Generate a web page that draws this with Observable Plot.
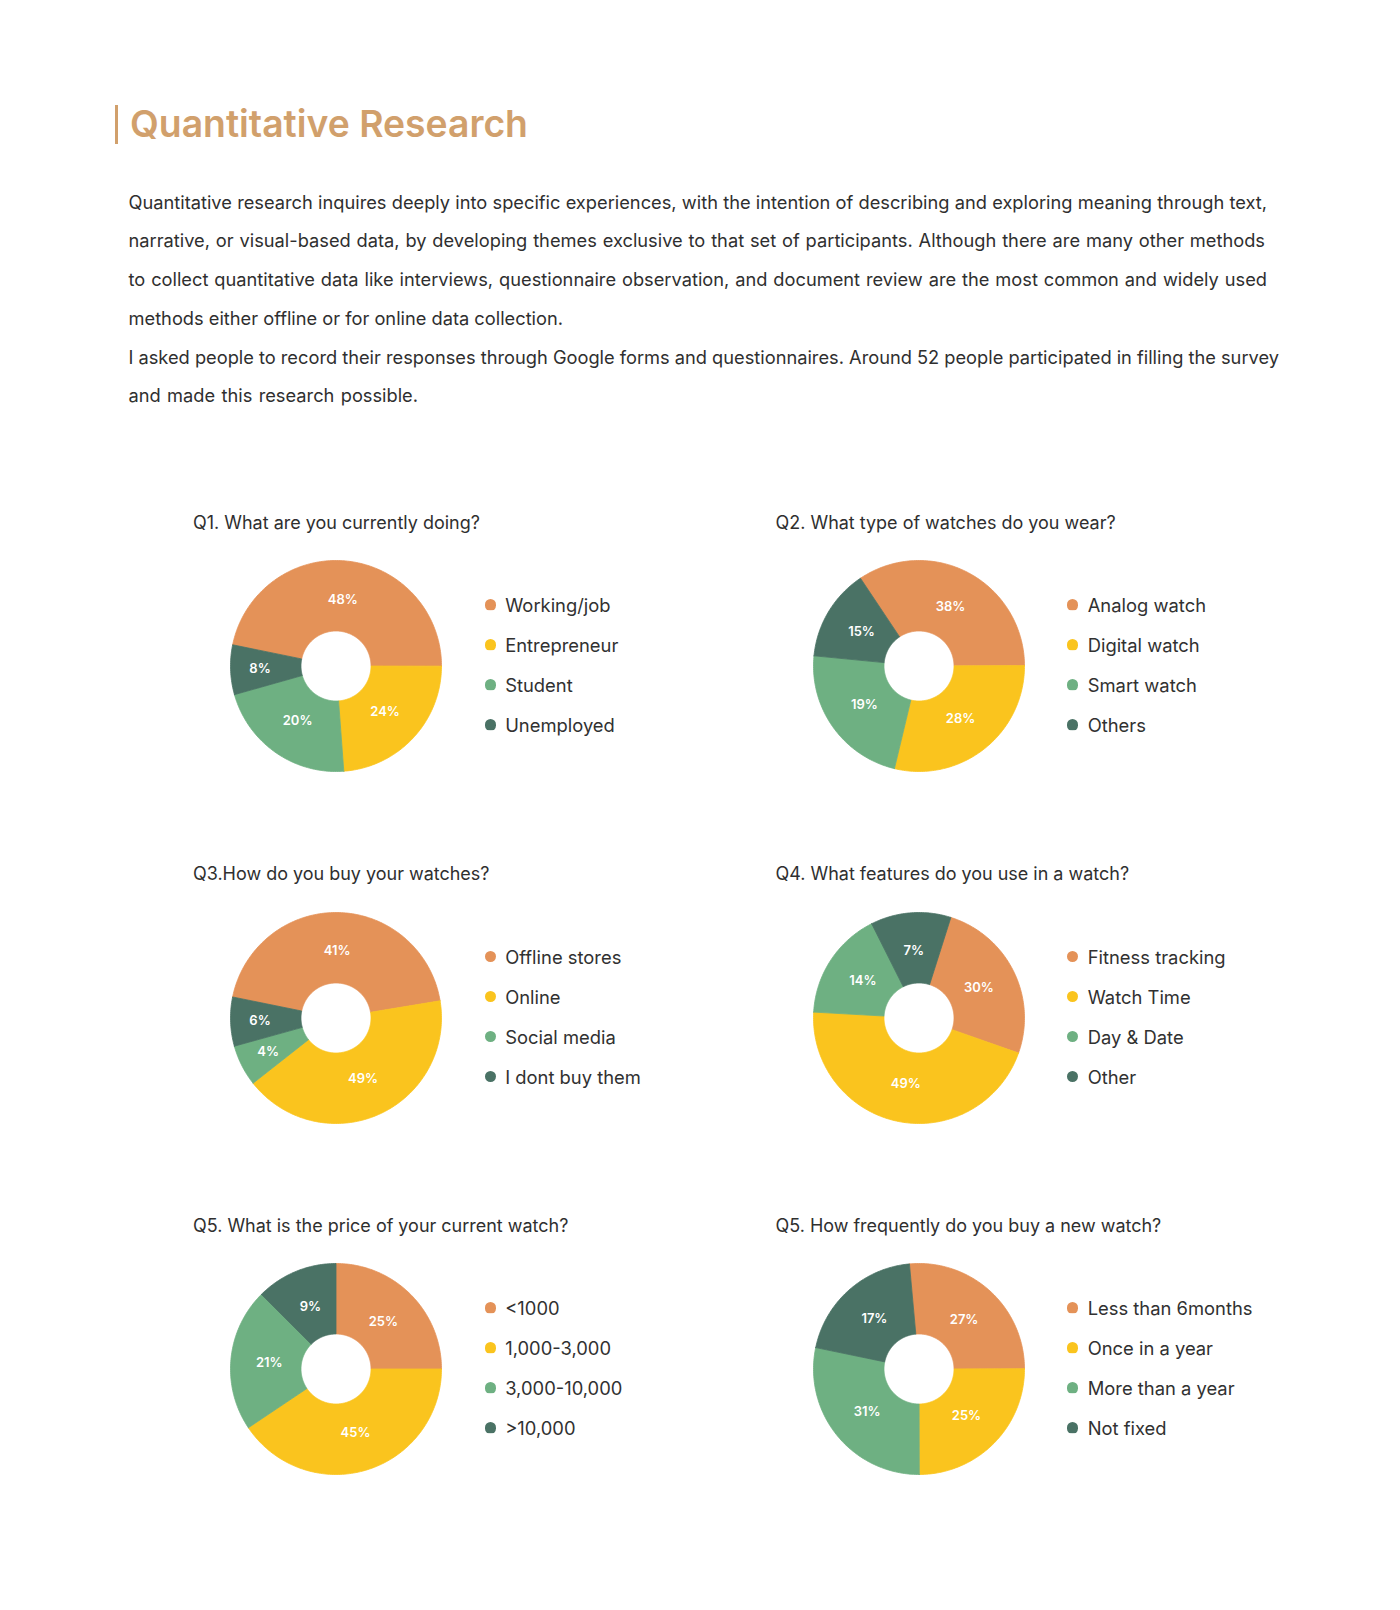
<!DOCTYPE html>
<html>
<head>
<meta charset="utf-8">
<script src="https://cdn.jsdelivr.net/npm/d3@7"></script>
<script src="https://cdn.jsdelivr.net/npm/@observablehq/plot@0.6"></script>
<style>
  html, body { margin: 0; padding: 0; background: #ffffff; }
  #page { position: relative; width: 1400px; height: 1610px; background: #ffffff; overflow: hidden;
          font-family: Inter, "Noto Sans", sans-serif; color: #313131; }
  .abs { position: absolute; white-space: nowrap; line-height: 1; }
  .lg-swatches { font-family: Inter, "Noto Sans", sans-serif; color: #313131; margin: 0; }
  .lg-swatch { height: 40px; padding-bottom: 0; }
  .lg-swatch > svg { margin-right: 9.5px; border-radius: 50%; overflow: hidden; }
  .lg-swatch-label { overflow: visible; }
</style>
</head>
<body>
<div id="page"></div>
<script>
// ---------------- data ----------------
const pageTitle = "Quantitative Research";
const introLines = [
  "Quantitative research inquires deeply into specific experiences, with the intention of describing and exploring meaning through text,",
  "narrative, or visual-based data, by developing themes exclusive to that set of participants. Although there are many other methods",
  "to collect quantitative data like interviews, questionnaire observation, and document review are the most common and widely used",
  "methods either offline or for online data collection.",
  "I asked people to record their responses through Google forms and questionnaires. Around 52 people participated in filling the survey",
  "and made this research possible."
];
const sliceColors = ["#E49258", "#FAC41E", "#6EB082", "#4A7265"];

const q1Title = "Q1. What are you currently doing?";
const q1Categories = ["Working/job", "Entrepreneur", "Student", "Unemployed"];
const q1Labels = ["48%", "24%", "20%", "8%"];
const q1Shares = [46.8, 23.8, 21.8, 7.6];

const q2Title = "Q2. What type of watches do you wear?";
const q2Categories = ["Analog watch", "Digital watch", "Smart watch", "Others"];
const q2Labels = ["38%", "28%", "19%", "15%"];
const q2Shares = [34.3, 28.8, 22.8, 14.1];

const q3Title = "Q3.How do you buy your watches?";
const q3Categories = ["Offline stores", "Online", "Social media", "I dont buy them"];
const q3Labels = ["41%", "49%", "4%", "6%"];
const q3Shares = [44.2, 42.0, 6.3, 7.5];

const q4Title = "Q4. What features do you use in a watch?";
const q4Categories = ["Fitness tracking", "Watch Time", "Day & Date", "Other"];
const q4Labels = ["30%", "49%", "14%", "7%"];
const q4Shares = [25.5, 45.5, 16.7, 12.3];

const q5Title = "Q5. What is the price of your current watch?";
const q5Categories = ["<1000", "1,000-3,000", "3,000-10,000", ">10,000"];
const q5Labels = ["25%", "45%", "21%", "9%"];
const q5Shares = [25.0, 40.6, 21.9, 12.5];

const q6Title = "Q5. How frequently do you buy a new watch?";
const q6Categories = ["Less than 6months", "Once in a year", "More than a year", "Not fixed"];
const q6Labels = ["27%", "25%", "31%", "17%"];
const q6Shares = [26.4, 25.0, 28.3, 20.3];

const charts = [
  {title: q1Title, categories: q1Categories, labels: q1Labels, shares: q1Shares},
  {title: q2Title, categories: q2Categories, labels: q2Labels, shares: q2Shares},
  {title: q3Title, categories: q3Categories, labels: q3Labels, shares: q3Shares},
  {title: q4Title, categories: q4Categories, labels: q4Labels, shares: q4Shares},
  {title: q5Title, categories: q5Categories, labels: q5Labels, shares: q5Shares},
  {title: q6Title, categories: q6Categories, labels: q6Labels, shares: q6Shares}
];

// ---------------- layout ----------------
const layout = {
  colX: [335.5, 918],
  rowY: [665.5, 1017, 1368.5],
  startAngle: [-78.4, -33.7, -78.5, 17.6, 0, -5.2],   // degrees clockwise from 12 o'clock
  outerR: 105.5,
  innerR: 35,
  pad: 5,
  paraLeft: 128.5,
  paraRight: [1267, 1265, 1267, 563, 1279, 418]
};

const FONT = 'Inter, "Noto Sans", sans-serif';
const page = document.getElementById("page");
const ctx = document.createElement("canvas").getContext("2d");
function measure(text, weight, fs) {
  ctx.font = `${weight} ${fs}px Inter`;
  return ctx.measureText(text).width;
}
function fitSize(text, weight, target) {
  return 100 * target / measure(text, weight, 100);
}
// Inter: baseline at top + 0.8633em when line-height = 1
function placeText(text, left, baseline, fs, weight, color) {
  const d = document.createElement("div");
  d.className = "abs";
  d.textContent = text;
  d.style.left = left + "px";
  d.style.top = (baseline - 0.8633 * fs) + "px";
  d.style.fontSize = fs + "px";
  d.style.fontWeight = weight;
  if (color) d.style.color = color;
  page.appendChild(d);
  return d;
}

// ---------------- header ----------------
const accent = "#D1A06C";
const bar = document.createElement("div");
Object.assign(bar.style, {position: "absolute", left: "114.5px", top: "105px", width: "3.6px", height: "38.5px", background: accent});
page.appendChild(bar);
const titleFs = fitSize(pageTitle, 600, 398);
placeText(pageTitle, 130, 137.5, titleFs, 600, accent);

const paraFs = fitSize(introLines[0], 400, 1137);
introLines.forEach((line, i) => {
  const d = placeText(line, layout.paraLeft, 208.5 + i * 38.7, paraFs, 400, "#2f2f2f");
  const target = layout.paraRight[i] - layout.paraLeft;
  const w = measure(line, 400, paraFs);
  const spaces = (line.match(/ /g) || []).length;
  if (spaces) {
    const ws = Math.max(-2, Math.min(3, (target - w) / spaces));
    d.style.wordSpacing = ws + "px";
  }
});

// ---------------- charts ----------------
const chartTitleFs = fitSize(q1Title, 400, 287);
const legendFs = fitSize("Working/job", 400, 105.5);

charts.forEach((c, ci) => {
  const cx = layout.colX[ci % 2];
  const cy = layout.rowY[Math.floor(ci / 2)];
  const R = layout.outerR, r = layout.innerR / layout.outerR;
  const total = d3.sum(c.shares);
  const pts = [], labelRows = [];
  let a = layout.startAngle[ci];
  c.shares.forEach((s, i) => {
    const span = s / total * 360;
    const a0 = a, a1 = a + span;
    const n = Math.max(4, Math.ceil(span));
    const key = c.categories[i];
    const ring = [];
    for (let k = 0; k <= n; k++) {
      const t = (a0 + (a1 - a0) * k / n) * Math.PI / 180;
      ring.push({key, x: Math.sin(t), y: Math.cos(t)});
    }
    for (let k = n; k >= 0; k--) {
      const t = (a0 + (a1 - a0) * k / n) * Math.PI / 180;
      ring.push({key, x: r * Math.sin(t), y: r * Math.cos(t)});
    }
    ring.push({...ring[0]});
    pts.push(...ring);
    const mid = (a0 + a1) / 2 * Math.PI / 180;
    const lr = (s < 10 ? 76 : 67) / R;
    labelRows.push({label: c.labels[i], x: lr * Math.sin(mid), y: lr * Math.cos(mid)});
    a = a1;
  });

  const size = 2 * R + 2 * layout.pad;
  const svg = Plot.plot({
    width: size, height: size, margin: layout.pad,
    x: {domain: [-1, 1], axis: null},
    y: {domain: [-1, 1], axis: null},
    color: {type: "ordinal", domain: c.categories, range: sliceColors},
    style: {background: "transparent", overflow: "visible"},
    marks: [
      Plot.line(pts, {x: "x", y: "y", z: "key", fill: "key", stroke: "key", strokeWidth: 0.8, curve: "linear"}),
      Plot.text(labelRows, {x: "x", y: "y", text: "label", fill: "white", fontSize: 13, fontWeight: 600, fontFamily: FONT})
    ]
  });
  Object.assign(svg.style, {position: "absolute", left: (cx - size / 2) + "px", top: (cy - size / 2) + "px"});
  page.appendChild(svg);

  placeText(c.title, cx - 142.5, cy - 136.2, chartTitleFs, 400, "#2f2f2f");

  const leg = svg.legend("color", {columns: 1, swatchSize: 11.2, className: "lg"});
  Object.assign(leg.style, {position: "absolute", left: (cx + 149) + "px", top: (cy - 80.5) + "px",
    width: "300px", fontSize: legendFs + "px", margin: "0"});
  page.appendChild(leg);
});
</script>
</body>
</html>
